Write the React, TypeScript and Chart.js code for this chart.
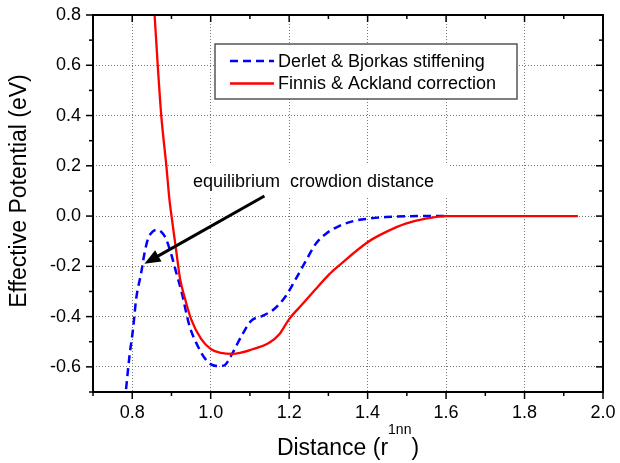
import React, { useEffect, useRef } from 'react';
import { Chart, registerables } from 'chart.js';

Chart.register(...registerables);

// ---- Data ----
const finnisX = [0.853, 0.857, 0.865, 0.874, 0.887, 0.895, 0.901, 0.912, 0.922, 0.933, 0.950, 0.976, 1.001, 1.026, 1.056, 1.107, 1.149, 1.175, 1.200, 1.234, 1.268, 1.302, 1.327, 1.400, 1.446, 1.497, 1.548, 1.599, 1.700, 1.800, 1.936];
const finnisY = [0.88, 0.8, 0.6, 0.4, 0.2, 0.063, -0.01, -0.137, -0.25, -0.32, -0.41, -0.49, -0.53, -0.544, -0.548, -0.53, -0.504, -0.47, -0.41, -0.35, -0.29, -0.232, -0.197, -0.104, -0.064, -0.03, -0.01, 0, 0, 0, 0];

const derletX = [0.781, 0.793, 0.802, 0.810, 0.823, 0.831, 0.840, 0.852, 0.865, 0.877, 0.886, 0.899, 0.912, 0.925, 0.946, 0.967, 0.984, 1.001, 1.018, 1.035, 1.045, 1.056, 1.081, 1.103, 1.132, 1.162, 1.192, 1.217, 1.243, 1.268, 1.294, 1.327, 1.361, 1.404, 1.446, 1.531, 1.600];
const derletY = [-0.74, -0.557, -0.45, -0.33, -0.224, -0.15, -0.092, -0.062, -0.055, -0.068, -0.09, -0.15, -0.224, -0.297, -0.437, -0.517, -0.564, -0.59, -0.597, -0.594, -0.575, -0.544, -0.47, -0.417, -0.397, -0.37, -0.317, -0.25, -0.177, -0.11, -0.07, -0.04, -0.021, -0.01, -0.004, 0, 0];

const seriesNames = ['Derlet & Bjorkas stiffening', 'Finnis & Ackland correction'];
const xRange = [0.7, 2.0];
const yRange = [-0.7, 0.8];
const tickStep = 0.1;
const xTitle = 'Distance (r';
const xTitleSup = '1nn';
const xTitleEnd = ')';
const yTitle = 'Effective Potential (eV)';
const annotationText = 'equilibrium  crowdion distance';
const arrowTail = [1.137, 0.08];
const arrowTip = [0.831, -0.19];

const FONT = "'Liberation Sans', Arial, Helvetica, sans-serif";
const isMajor = (v: number) => Math.round(v * 10) % 2 === 0;

const overlayPlugin = {
  id: 'overlay',
  beforeDatasetsDraw(chart: any) {
    const ctx = chart.ctx;
    ctx.save();
    ctx.fillStyle = '#ffffff';
    ctx.fillRect(190, 163, 258, 35);
    ctx.fillRect(215, 44, 302, 55);
    ctx.restore();
  },
  afterDatasetsDraw(chart: any) {
    const ctx = chart.ctx;
    const xs = chart.scales.x;
    const ys = chart.scales.y;
    const { left, right, top, bottom } = chart.chartArea;
    ctx.save();

    // frame + ticks
    ctx.strokeStyle = '#000';
    ctx.lineWidth = 1.5;
    const seg = (a: number, b: number, c: number, d: number) => {
      ctx.beginPath(); ctx.moveTo(a, b); ctx.lineTo(c, d); ctx.stroke();
    };
    xs.ticks.forEach((t: any) => {
      const px = xs.getPixelForValue(t.value);
      const L = isMajor(t.value) ? 7 : 4;
      seg(px, bottom, px, bottom + L);
      seg(px, top, px, top + L);
    });
    ys.ticks.forEach((t: any) => {
      const py = ys.getPixelForValue(t.value);
      const L = isMajor(t.value) ? 7 : 4;
      seg(left - L, py, left, py);
      seg(right - L, py, right, py);
    });
    ctx.lineWidth = 2;
    ctx.strokeRect(left, top, right - left, bottom - top);

    // legend
    ctx.lineWidth = 1.5;
    ctx.strokeStyle = '#555';
    ctx.strokeRect(215, 44, 302, 55);
    ctx.lineWidth = 2.5;
    ctx.strokeStyle = '#0000ff';
    ctx.setLineDash([8, 5]);
    seg(230, 61, 274, 61);
    ctx.setLineDash([]);
    ctx.lineWidth = 2.3;
    ctx.strokeStyle = '#ff0000';
    seg(230, 83.5, 274, 83.5);
    ctx.fillStyle = '#000';
    ctx.font = `18px ${FONT}`;
    ctx.textAlign = 'left';
    ctx.textBaseline = 'alphabetic';
    ctx.fillText(seriesNames[0], 278, 67);
    ctx.fillText(seriesNames[1], 278, 89);

    // annotation text
    ctx.fillText(annotationText, 193, 187);

    // arrow
    const tx = xs.getPixelForValue(arrowTail[0]);
    const ty = ys.getPixelForValue(arrowTail[1]);
    const hx = xs.getPixelForValue(arrowTip[0]);
    const hy = ys.getPixelForValue(arrowTip[1]);
    const ang = Math.atan2(hy - ty, hx - tx);
    const headLen = 16, headW = 6.5;
    const bx = hx - headLen * Math.cos(ang);
    const by = hy - headLen * Math.sin(ang);
    ctx.strokeStyle = '#000';
    ctx.lineWidth = 3;
    seg(tx, ty, bx + 2 * Math.cos(ang), by + 2 * Math.sin(ang));
    ctx.beginPath();
    ctx.moveTo(hx, hy);
    ctx.lineTo(bx + headW * Math.sin(ang), by - headW * Math.cos(ang));
    ctx.lineTo(bx - headW * Math.sin(ang), by + headW * Math.cos(ang));
    ctx.closePath();
    ctx.fill();

    // axis titles
    ctx.font = `23px ${FONT}`;
    const w1 = ctx.measureText(xTitle).width;
    const w3 = ctx.measureText(xTitleEnd).width;
    ctx.font = `14px ${FONT}`;
    const w2 = ctx.measureText(xTitleSup).width;
    const cx = (left + right) / 2;
    const sx = cx - (w1 + w2 + w3) / 2;
    ctx.font = `23px ${FONT}`;
    ctx.fillText(xTitle, sx, 455);
    ctx.font = `14px ${FONT}`;
    ctx.fillText(xTitleSup, sx + w1, 434);
    ctx.font = `23px ${FONT}`;
    ctx.fillText(xTitleEnd, sx + w1 + w2, 455);

    ctx.translate(26, 191);
    ctx.rotate(-Math.PI / 2);
    ctx.textAlign = 'center';
    ctx.fillText(yTitle, 0, 0);
    ctx.restore();
  },
};

export default function App() {
  const ref = useRef<HTMLCanvasElement>(null);
  useEffect(() => {
    const red = finnisX.map((x, i) => ({ x, y: finnisY[i] }));
    const blue = derletX.map((x, i) => ({ x, y: derletY[i] }));
    const gridColor = (c: any) => (c.tick && isMajor(c.tick.value) && c.index !== 0 ? '#777' : 'rgba(0,0,0,0)');
    const chart = new Chart(ref.current!, {
      type: 'scatter',
      data: {
        datasets: [
          {
            label: seriesNames[1], data: red, showLine: true, borderColor: '#ff0000', backgroundColor: '#ff0000',
            borderWidth: 2.3, pointRadius: 0, cubicInterpolationMode: 'monotone', fill: false,
          },
          {
            label: seriesNames[0], data: blue, showLine: true, borderColor: '#0000ff', backgroundColor: '#0000ff',
            borderWidth: 2.5, borderDash: [8, 5], pointRadius: 0, cubicInterpolationMode: 'monotone', fill: false,
          },
        ],
      } as any,
      options: {
        animation: false,
        responsive: false,
        devicePixelRatio: 1,
        layout: { padding: { left: 0, top: 15, right: 17, bottom: 0 } },
        plugins: { legend: { display: false }, tooltip: { enabled: false } },
        scales: {
          x: {
            type: 'linear', min: xRange[0], max: xRange[1],
            afterFit: (s: any) => { s.height = 71; s.paddingLeft = 0; s.paddingRight = 0; },
            ticks: {
              stepSize: tickStep, autoSkip: false, maxRotation: 0, padding: 10, color: '#000',
              font: { family: FONT, size: 18 },
              callback: (v: any) => (isMajor(Number(v)) ? Number(v).toFixed(1) : ''),
            },
            grid: { color: gridColor, lineWidth: 1, drawTicks: false },
            border: { display: false, dash: [1, 2] },
          },
          y: {
            type: 'linear', min: yRange[0], max: yRange[1],
            afterFit: (s: any) => { s.width = 93; s.paddingTop = 0; s.paddingBottom = 0; },
            ticks: {
              stepSize: tickStep, autoSkip: false, padding: 12, color: '#000',
              font: { family: FONT, size: 18 },
              callback: (v: any) => (isMajor(Number(v)) ? Number(v).toFixed(1) : ''),
            },
            grid: { color: gridColor, lineWidth: 1, drawTicks: false },
            border: { display: false, dash: [1, 2] },
          },
        },
      } as any,
      plugins: [overlayPlugin],
    });
    return () => chart.destroy();
  }, []);
  return (
    <div style={{ position: 'fixed', left: 0, top: 0, width: 620, height: 463, background: '#fff' }}>
      <canvas ref={ref} width={620} height={463} style={{ width: 620, height: 463, display: 'block' }} />
    </div>
  );
}
